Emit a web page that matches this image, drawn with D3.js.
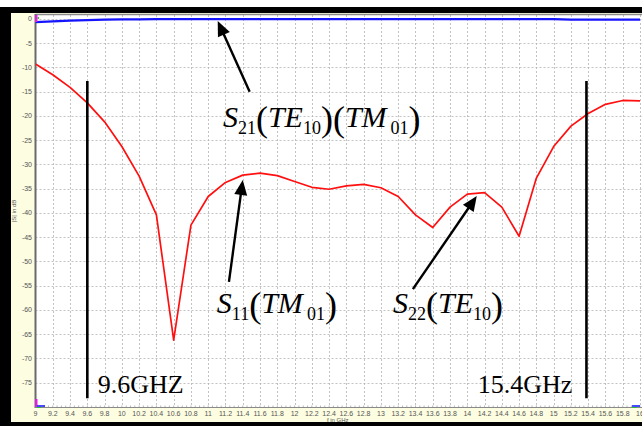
<!DOCTYPE html>
<html><head><meta charset="utf-8">
<script src="https://cdn.jsdelivr.net/npm/d3@7"></script>
<style>html,body{margin:0;padding:0;background:#fff;overflow:hidden}</style>
</head><body><svg id="c" width="642" height="426" xmlns="http://www.w3.org/2000/svg"></svg>
<script>
// ---------- data ----------
const freqs = [9.0,9.2,9.4,9.6,9.8,10.0,10.2,10.4,10.6,10.8,11.0,11.2,11.4,11.6,11.8,12.0,12.2,12.4,12.6,12.8,13.0,13.2,13.4,13.6,13.8,14.0,14.2,14.4,14.6,14.8,15.0,15.2,15.4,15.6,15.8,16.0];
const s11 = [-9.3,-11.5,-14.1,-17.3,-21.2,-26.3,-32.4,-40.4,-66.2,-42.5,-36.6,-33.7,-32.2,-31.8,-32.3,-33.5,-34.7,-35.1,-34.4,-34.1,-34.8,-36.6,-40.4,-43.0,-38.8,-36.1,-35.8,-38.8,-44.8,-32.8,-26.3,-22.1,-19.5,-17.6,-16.8,-16.9];
const s21 = [-0.65,-0.5,-0.35,-0.25,-0.15,-0.1,-0.07,-0.05,-0.05,-0.05,-0.05,-0.05,-0.05,-0.05,-0.05,-0.05,-0.05,-0.05,-0.05,-0.05,-0.05,-0.05,-0.05,-0.05,-0.05,-0.05,-0.05,-0.05,-0.05,-0.05,-0.05,-0.12,-0.12,-0.12,-0.12,-0.12];
const yTicks = [0,-5,-10,-15,-20,-25,-30,-35,-40,-45,-50,-55,-60,-65,-70,-75];
const xTicks = [9,9.2,9.4,9.6,9.8,10,10.2,10.4,10.6,10.8,11,11.2,11.4,11.6,11.8,12,12.2,12.4,12.6,12.8,13,13.2,13.4,13.6,13.8,14,14.2,14.4,14.6,14.8,15,15.2,15.4,15.6,15.8,16];
const xTickLabels = ["9","9.2","9.4","9.6","9.8","10","10.2","10.4","10.6","10.8","11","11.2","11.4","11.6","11.8","12","12.2","12.4","12.6","12.8","13","13.2","13.4","13.6","13.8","14","14.2","14.4","14.6","14.8","15","15.2","15.4","15.6","15.8","16"];
const yTickLabels = ["0","-5","-10","-15","-20","-25","-30","-35","-40","-45","-50","-55","-60","-65","-70","-75"];
const xTitle = "f in GHz";
const yTitle = "|S| in dB";
// annotation markers in data units (GHz, dB)
const bandEdges = [9.6, 15.38];
const bandLabels = [{f:9.72, db:-77.1, t:"9.6GHZ"}, {f:14.12, db:-77.1, t:"15.4GHz"}];
const arrows = [
  {from:[11.48,-15.0], to:[11.11,-0.4]},
  {from:[11.24,-54.2], to:[11.40,-33.2]},
  {from:[13.37,-55.7], to:[14.11,-36.5]}
];
const eqLabels = [
  {f:11.17, db:-22.3, parts:[["S","i"],["21","s"],["(","p"],["TE","i"],["10","s"],[")","p"],["(","p"],["TM","i"],["01","s",4],[")","p"]]},
  {f:11.10, db:-60.6, parts:[["S","i"],["11","s"],["(","p"],["TM","i"],["01","s",4],[")","p"]]},
  {f:13.14, db:-60.6, parts:[["S","i"],["22","s"],["(","p"],["TE","i"],["10","s"],[")","p"]]}
];

// ---------- layout ----------
const W = 642, H = 426;
const svg = d3.select("#c");
const plot = {l:35.5, r:640, t:15, b:407};
const x = d3.scaleLinear().domain([9,16]).range([plot.l, plot.r]);
const y = d3.scaleLinear().domain([-80, 0.82]).range([plot.b, plot.t]);

// frame
svg.append("rect").attr("x",0).attr("y",0).attr("width",W).attr("height",H).attr("fill","#fff");
svg.append("rect").attr("x",0).attr("y",7).attr("width",W).attr("height",H-7).attr("fill","#000");
svg.append("rect").attr("x",11).attr("y",13).attr("width",W-11).attr("height",409).attr("fill","#fdfde2");
svg.append("rect").attr("x",plot.l).attr("y",plot.t).attr("width",W-plot.l).attr("height",plot.b-plot.t).attr("fill","#fff");

// grid
const grid = svg.append("g").attr("stroke","#b4b4b4").attr("stroke-width",0.8).attr("stroke-dasharray","2,2");
grid.selectAll("line.v").data(xTicks.slice(1)).join("line").attr("class","v")
  .attr("x1",d=>Math.round(x(d))+0.5).attr("x2",d=>Math.round(x(d))+0.5).attr("y1",plot.t).attr("y2",plot.b);
grid.selectAll("line.h").data(yTicks).join("line").attr("class","h")
  .attr("y1",d=>Math.round(y(d))+0.5).attr("y2",d=>Math.round(y(d))+0.5).attr("x1",plot.l).attr("x2",W);

// axes lines
svg.append("line").attr("x1",plot.l).attr("x2",W).attr("y1",plot.t-0.5).attr("y2",plot.t-0.5).attr("stroke","#8a8a8a").attr("stroke-width",1.5);
svg.append("line").attr("x1",plot.l).attr("x2",plot.l).attr("y1",plot.t-1).attr("y2",plot.b+1).attr("stroke","#6a6a6a").attr("stroke-width",2);
svg.append("line").attr("x1",plot.l).attr("x2",W).attr("y1",plot.b+0.5).attr("y2",plot.b+0.5).attr("stroke","#8a8a8a").attr("stroke-width",1.2);

// minor ticks on x axis
const minor = d3.range(9, 16.001, 0.05);
svg.append("g").selectAll("line").data(minor).join("line")
  .attr("x1",d=>x(d)).attr("x2",d=>x(d)).attr("y1",plot.b-1.5).attr("y2",plot.b+1)
  .attr("stroke","#8a8a8a").attr("stroke-width",0.6);

// y tick labels
svg.append("g").selectAll("text").data(yTicks).join("text")
  .attr("x",32).attr("y",d=>y(d)+2.5).attr("text-anchor","end")
  .attr("font-family","Liberation Sans, Arial, sans-serif").attr("font-size",7).attr("fill","#555")
  .text((d,i)=>yTickLabels[i]);
// x tick labels
svg.append("g").selectAll("text").data(xTicks).join("text")
  .attr("x",d=>x(d)).attr("y",416).attr("text-anchor","middle")
  .attr("font-family","Liberation Sans, Arial, sans-serif").attr("font-size",7).attr("fill","#555")
  .text((d,i)=>xTickLabels[i]);
svg.append("text").attr("x",(plot.l+plot.r)/2).attr("y",421.5).attr("text-anchor","middle")
  .attr("font-family","Liberation Sans, Arial, sans-serif").attr("font-size",6).attr("fill","#555").text(xTitle);
svg.append("text").attr("transform",`translate(16,${(plot.t+plot.b)/2}) rotate(-90)`).attr("text-anchor","middle")
  .attr("font-family","Liberation Sans, Arial, sans-serif").attr("font-size",6).attr("fill","#555").text(yTitle);

// series
const clip = svg.append("clipPath").attr("id","pc").append("rect").attr("x",plot.l).attr("y",plot.t-2).attr("width",W-plot.l).attr("height",plot.b-plot.t+4);
const line = d3.line().x((d,i)=>x(freqs[i])).y(d=>y(d));
svg.append("path").attr("d",line(s21)).attr("fill","none").attr("stroke","#1414ff").attr("stroke-width",2.2).attr("clip-path","url(#pc)");
svg.append("path").attr("d",line(s11)).attr("fill","none").attr("stroke","#ff1010").attr("stroke-width",1.7).attr("stroke-linejoin","round").attr("clip-path","url(#pc)");

// marker glyphs
svg.append("rect").attr("x",35).attr("y",15).attr("width",2.5).attr("height",7).attr("fill","#e020e0");
svg.append("rect").attr("x",37.5).attr("y",17).attr("width",1.5).attr("height",2).attr("fill","#40c040");
svg.append("rect").attr("x",35).attr("y",399).attr("width",2.5).attr("height",8).attr("fill","#e020e0");
svg.append("line").attr("x1",37).attr("x2",45).attr("y1",406).attr("y2",406).attr("stroke","#1010ff").attr("stroke-width",1.5);
svg.append("line").attr("x1",37).attr("x2",41).attr("y1",407.5).attr("y2",407.5).attr("stroke","#30c030").attr("stroke-width",1);
svg.append("line").attr("x1",632).attr("x2",640).attr("y1",406).attr("y2",406).attr("stroke","#1010ff").attr("stroke-width",1.5);
svg.append("line").attr("x1",632).attr("x2",637).attr("y1",407.5).attr("y2",407.5).attr("stroke","#30c030").attr("stroke-width",1);

// band edge lines
svg.append("g").selectAll("line").data(bandEdges).join("line")
  .attr("x1",d=>x(d)).attr("x2",d=>x(d)).attr("y1",y(-12.8)).attr("y2",y(-78.2))
  .attr("stroke","#000").attr("stroke-width",2.6);
svg.append("g").selectAll("text").data(bandLabels).join("text")
  .attr("x",d=>x(d.f)).attr("y",d=>y(d.db))
  .attr("font-family","Liberation Serif, Times New Roman, serif").attr("font-size",26).attr("fill","#000")
  .text(d=>d.t);

// arrows
arrows.forEach(a=>{
  const x1=x(a.from[0]), y1=y(a.from[1]), x2=x(a.to[0]), y2=y(a.to[1]);
  const dx=x2-x1, dy=y2-y1, L=Math.hypot(dx,dy), ux=dx/L, uy=dy/L;
  const hl=15, hw=6.5;
  const bx=x2-ux*hl, by=y2-uy*hl;
  svg.append("line").attr("x1",x1).attr("y1",y1).attr("x2",bx+ux*2).attr("y2",by+uy*2).attr("stroke","#000").attr("stroke-width",2.4);
  svg.append("path").attr("d",`M${x2},${y2}L${bx-uy*hw},${by+ux*hw}L${bx+uy*hw},${by-ux*hw}Z`).attr("fill","#000");
});

// equation labels
eqLabels.forEach(e=>{
  const t = svg.append("text").attr("x",x(e.f)).attr("y",y(e.db))
    .attr("font-family","Liberation Serif, Times New Roman, serif").attr("fill","#000");
  const by = y(e.db);
  e.parts.forEach(p=>{
    const ts = t.append("tspan").text(p[0]);
    if(p[1]==="i"){ ts.attr("font-size",30).attr("font-style","italic").attr("y",by); }
    else if(p[1]==="s"){ ts.attr("font-size",18).attr("y",by+7); if(p[2]) ts.attr("dx",p[2]); }
    else { ts.attr("font-size",36).attr("y",by+4); }
  });
});
</script></body></html>
